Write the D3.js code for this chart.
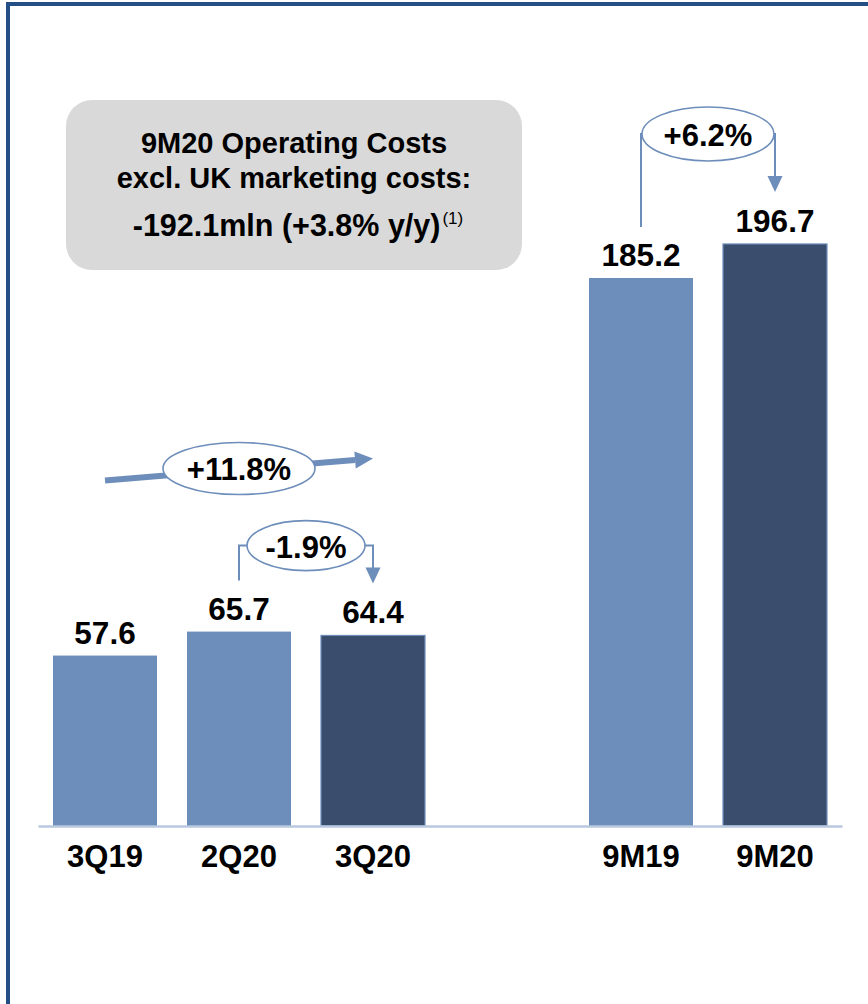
<!DOCTYPE html>
<html>
<head>
<meta charset="utf-8">
<script src="https://cdn.jsdelivr.net/npm/d3@7"></script>
<style>
  html, body { margin: 0; padding: 0; background: #fff; }
  svg { display: block; }
  text { font-family: "Liberation Sans", Arial, sans-serif; }
</style>
</head>
<body>
<svg id="chart" width="868" height="1004"></svg>
<script>
// ---- data ----
const categories = ["3Q19", "2Q20", "3Q20", "", "9M19", "9M20"];
const values = [57.6, 65.7, 64.4, null, 185.2, 196.7];
const valueLabels = ["57.6", "65.7", "64.4", "", "185.2", "196.7"];
const barShade = ["light", "light", "dark", null, "light", "dark"];
const changes = [
  { from: "3Q19", to: "3Q20", label: "+11.8%", kind: "trend" },
  { from: "2Q20", to: "3Q20", label: "-1.9%", kind: "step" },
  { from: "9M19", to: "9M20", label: "+6.2%", kind: "step" }
];
const boxLines = ["9M20 Operating Costs", "excl. UK marketing costs:", "-192.1mln (+3.8% y/y)"];
const boxNote = "(1)";

// ---- styles ----
const LIGHT = "#6d8dba", DARK = "#3a4d6d", AXIS = "#b9c9df", FRAME = "#234f86";

const svg = d3.select("#chart");

// frame
svg.append("line").attr("x1", 6).attr("x2", 868).attr("y1", 4).attr("y2", 4)
  .attr("stroke", FRAME).attr("stroke-width", 4);
svg.append("line").attr("x1", 8).attr("x2", 8).attr("y1", 2).attr("y2", 1004)
  .attr("stroke", FRAME).attr("stroke-width", 4);

// scales
const x = d3.scaleBand().domain(categories).range([38, 842]).paddingInner(0.224).paddingOuter(0.112);
const y = d3.scaleLinear().domain([0, 200]).range([826, 234.2]);
const cx = c => x(c) + x.bandwidth() / 2;
const valOf = c => values[categories.indexOf(c)];

// bars
const data = categories.map((c, i) => ({ c, v: values[i], lab: valueLabels[i], shade: barShade[i] }))
  .filter(d => d.v != null);

svg.append("g").selectAll("rect").data(data).join("rect")
  .attr("x", d => x(d.c))
  .attr("y", d => y(d.v))
  .attr("width", x.bandwidth())
  .attr("height", d => y(0) - y(d.v))
  .attr("fill", d => d.shade === "dark" ? DARK : LIGHT)
  .attr("stroke", d => d.shade === "dark" ? LIGHT : "none")
  .attr("stroke-width", 1.2);

// axis baseline
const xAxis = d3.axisBottom(x).tickSize(0).tickPadding(0).tickFormat(d => d);
const gx = svg.append("g").attr("transform", `translate(0,${y(0)})`).call(xAxis);
gx.select(".domain").attr("stroke", AXIS).attr("stroke-width", 2.5);
gx.selectAll(".tick text")
  .attr("dy", null).attr("y", 41)
  .attr("font-family", "Liberation Sans, Arial, sans-serif")
  .attr("font-size", 31).attr("font-weight", "bold").attr("fill", "#000");

// value labels
svg.append("g").selectAll("text").data(data).join("text")
  .attr("x", d => cx(d.c))
  .attr("y", d => y(d.v) - 12)
  .attr("text-anchor", "middle")
  .attr("font-size", 31.5).attr("font-weight", "bold").attr("fill", "#000")
  .text(d => d.lab);

// annotation box
const box = svg.append("g");
box.append("rect").attr("x", 66).attr("y", 100).attr("width", 456).attr("height", 170)
  .attr("rx", 26).attr("ry", 26).attr("fill", "#d9d9d9");
box.append("text").attr("x", 294).attr("y", 153).attr("text-anchor", "middle")
  .attr("font-size", 29).attr("font-weight", "bold").text(boxLines[0]);
box.append("text").attr("x", 294).attr("y", 188).attr("text-anchor", "middle")
  .attr("font-size", 29).attr("font-weight", "bold").text(boxLines[1]);
const t3 = box.append("text").attr("x", 298).attr("y", 236).attr("text-anchor", "middle");
t3.append("tspan").attr("font-size", 30.5).attr("font-weight", "bold").text(boxLines[2]);
t3.append("tspan").attr("font-size", 17).attr("dy", -12).attr("dx", 2).text(boxNote);

// arrowhead helper
function arrowDown(g, xc, tipY, w, h) {
  g.append("path")
    .attr("d", `M${xc - w / 2},${tipY - h} L${xc + w / 2},${tipY - h} L${xc},${tipY} Z`)
    .attr("fill", LIGHT);
}

const ann = svg.append("g");

changes.forEach(ch => {
  const x1 = cx(ch.from), x2 = cx(ch.to);
  const mid = (x1 + x2) / 2;
  if (ch.kind === "trend") {
    const yA = y(valOf(ch.from)) - 175, yB = y(valOf(ch.to)) - 177;
    const headLen = 18;
    const ang = Math.atan2(yB - yA, x2 - x1);
    const bx = x2 - headLen * Math.cos(ang), by = yB - headLen * Math.sin(ang);
    ann.append("line").attr("x1", x1).attr("y1", yA).attr("x2", bx).attr("y2", by)
      .attr("stroke", LIGHT).attr("stroke-width", 6);
    const nx = -Math.sin(ang), ny = Math.cos(ang), hw = 8.5;
    ann.append("path")
      .attr("d", `M${bx + nx * hw},${by + ny * hw} L${bx - nx * hw},${by - ny * hw} L${x2},${yB} Z`)
      .attr("fill", LIGHT);
    const ey = (yA + yB) / 2 - 1;
    ann.append("ellipse").attr("cx", mid).attr("cy", ey).attr("rx", 76).attr("ry", 26)
      .attr("fill", "#fff").attr("stroke", LIGHT).attr("stroke-width", 1.6);
    ann.append("text").attr("x", mid).attr("y", ey + 11).attr("text-anchor", "middle")
      .attr("font-size", 31).attr("font-weight", "bold").text(ch.label);
  } else {
    const yStart = y(valOf(ch.from)) - 51;
    const tip = y(valOf(ch.to)) - 52;
    const big = ch.label === "+6.2%";
    const ey = big ? y(valOf(ch.to)) - 110 : y(valOf(ch.from)) - 86;
    const rx = big ? 66 : 59, ry = big ? 27 : 25;
    ann.append("path")
      .attr("d", `M${x1},${yStart} L${x1},${ey} L${mid - rx},${ey} M${mid + rx},${ey} L${x2},${ey} L${x2},${tip - 15}`)
      .attr("fill", "none").attr("stroke", LIGHT).attr("stroke-width", 2);
    arrowDown(ann, x2, tip, 15, 16);
    ann.append("ellipse").attr("cx", mid).attr("cy", ey).attr("rx", rx).attr("ry", ry)
      .attr("fill", "#fff").attr("stroke", LIGHT).attr("stroke-width", 1.6);
    ann.append("text").attr("x", mid).attr("y", ey + 12).attr("text-anchor", "middle")
      .attr("font-size", 31).attr("font-weight", "bold").text(ch.label);
  }
});
</script>
</body>
</html>
